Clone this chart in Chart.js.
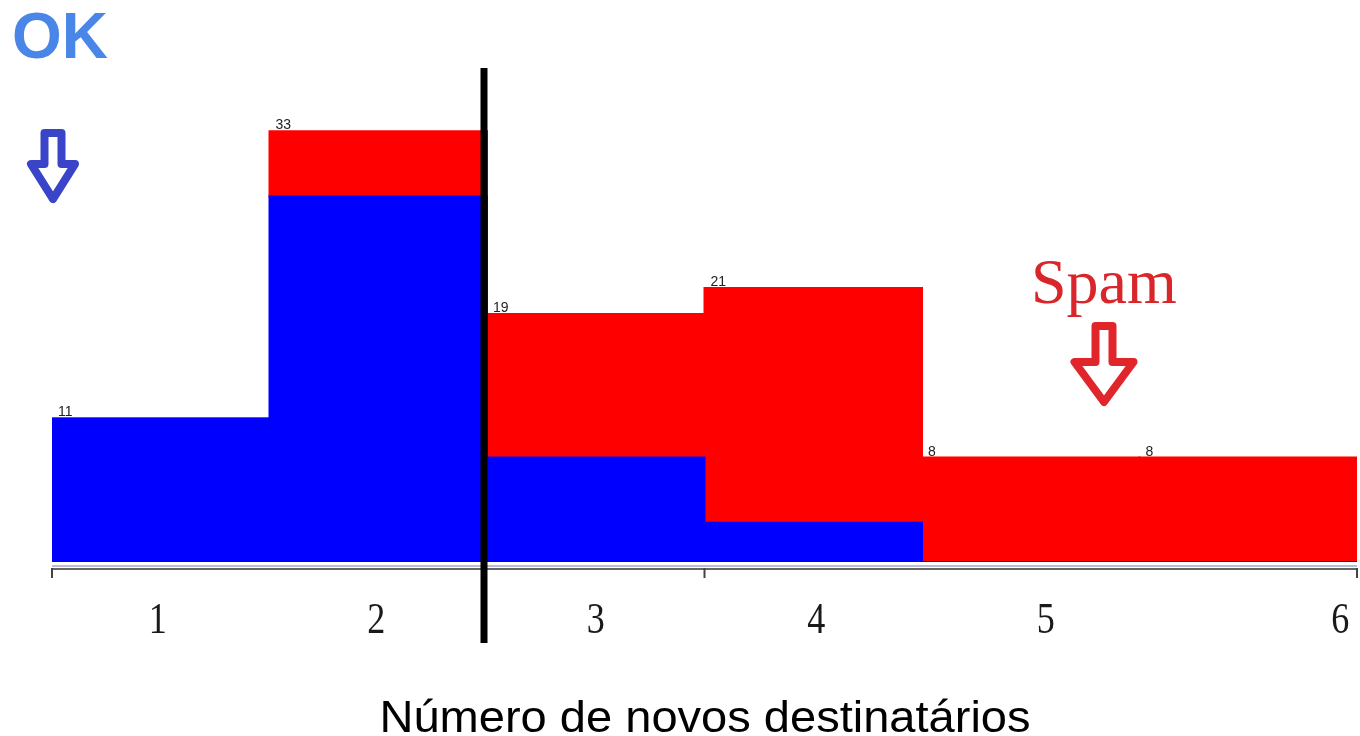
<!DOCTYPE html>
<html>
<head>
<meta charset="utf-8">
<script src="https://cdn.jsdelivr.net/npm/chart.js@4"></script>
<style>
html,body{margin:0;padding:0;background:#fff;}
#wrap{width:1360px;height:736px;position:relative;}
</style>
</head>
<body>
<div id="wrap"><canvas id="c" width="1360" height="736"></canvas></div>
<script>
const categories = ['1', '2', '3', '4', '5', '6'];
const okValues   = [11, 28, 8, 3, 0, 0];
const spamValues = [0, 5, 11, 18, 8, 8];
const totals = categories.map((_, i) => okValues[i] + spamValues[i]);
const tickLabelShift = [-3, -2, 0, 3, 15, 92];
const axisTickAt = [-0.5, 2.5, 5.5];
const dividerAt = 1.5;

function arrow(ctx, cx, top, shoulder, tip, stemHalf, headHalf, color, lw) {
  ctx.save();
  ctx.strokeStyle = color;
  ctx.lineWidth = lw;
  ctx.lineJoin = 'round';
  ctx.beginPath();
  ctx.moveTo(cx - stemHalf, top);
  ctx.lineTo(cx + stemHalf, top);
  ctx.lineTo(cx + stemHalf, shoulder);
  ctx.lineTo(cx + headHalf, shoulder);
  ctx.lineTo(cx, tip);
  ctx.lineTo(cx - headHalf, shoulder);
  ctx.lineTo(cx - stemHalf, shoulder);
  ctx.closePath();
  ctx.stroke();
  ctx.restore();
}

const decor = {
  id: 'decor',
  afterDatasetsDraw(chart) {
    const ctx = chart.ctx;
    const x = chart.scales.x, y = chart.scales.y;
    const area = chart.chartArea;
    ctx.save();
    // value labels at top-left of each bar
    ctx.font = '14px "Liberation Sans", Arial, sans-serif';
    ctx.fillStyle = '#222';
    ctx.textAlign = 'left';
    ctx.textBaseline = 'alphabetic';
    const halfW = (x.getPixelForValue(1) - x.getPixelForValue(0)) / 2;
    totals.forEach((t, i) => {
      const left = x.getPixelForValue(i) - halfW;
      ctx.fillText(String(t), left + 6, y.getPixelForValue(t) - 2);
    });
    // axis line
    const ay = area.bottom + 6;
    ctx.strokeStyle = '#b8bcd8';
    ctx.lineWidth = 2;
    ctx.beginPath(); ctx.moveTo(area.left, ay - 2); ctx.lineTo(area.right, ay - 2); ctx.stroke();
    ctx.strokeStyle = '#666';
    ctx.lineWidth = 2;
    ctx.beginPath(); ctx.moveTo(area.left, ay + 1); ctx.lineTo(area.right, ay + 1); ctx.stroke();
    ctx.strokeStyle = '#444';
    axisTickAt.forEach(v => {
      const px = x.getPixelForValue(v);
      ctx.beginPath(); ctx.moveTo(px, ay); ctx.lineTo(px, ay + 10); ctx.stroke();
    });
    // tick labels
    ctx.fillStyle = '#1a1a1a';
    ctx.textAlign = 'center';
    ctx.textBaseline = 'alphabetic';
    categories.forEach((c, i) => {
      const px = x.getPixelForValue(i) + tickLabelShift[i];
      ctx.save();
      ctx.translate(px, 633);
      ctx.scale(0.82, 1);
      ctx.font = '44px "Liberation Serif", "Times New Roman", serif';
      ctx.fillText(c, 0, 0);
      ctx.restore();
    });
    // divider line
    const dx = x.getPixelForValue(dividerAt) - 3;
    ctx.fillStyle = '#000';
    ctx.fillRect(dx - 3.5, 68, 7, 575);
    // axis title
    ctx.fillStyle = '#000';
    ctx.font = '48px "Liberation Sans", Arial, sans-serif';
    ctx.textAlign = 'center';
    ctx.save();
    ctx.translate(705, 732);
    ctx.scale(0.98, 0.92);
    ctx.fillText('Número de novos destinatários', 0, 0);
    ctx.restore();
    // OK title
    ctx.fillStyle = '#4a86e8';
    ctx.font = 'bold 64px "Liberation Sans", Arial, sans-serif';
    ctx.textAlign = 'left';
    ctx.fillText('OK', 12, 58);
    // Spam
    ctx.fillStyle = '#d9262b';
    ctx.font = '64px "Liberation Serif", "Times New Roman", serif';
    ctx.fillText('Spam', 1031, 303);
    ctx.restore();
    arrow(ctx, 53, 133, 164, 199, 8.5, 22, '#3a44c9', 8);
    arrow(ctx, 1104, 326, 362, 402, 8.5, 29.5, '#e1262b', 8);
  }
};

new Chart(document.getElementById('c'), {
  type: 'bar',
  data: {
    labels: categories,
    datasets: [
      { label: 'OK', data: okValues, backgroundColor: '#0000ff', borderWidth: 0, inflateAmount: 1, barPercentage: 1, categoryPercentage: 1 },
      { label: 'Spam', data: spamValues, backgroundColor: '#ff0000', borderWidth: 0, inflateAmount: 1, barPercentage: 1, categoryPercentage: 1 }
    ]
  },
  options: {
    responsive: false,
    animation: false,
    layout: { padding: { left: 52, right: 3, top: 40, bottom: 174 } },
    plugins: { legend: { display: false }, tooltip: { enabled: false }, title: { display: false } },
    scales: {
      x: { stacked: true, display: false, offset: true },
      y: { stacked: true, display: false, min: 0, max: 40 }
    }
  },
  plugins: [decor]
});
</script>
</body>
</html>
